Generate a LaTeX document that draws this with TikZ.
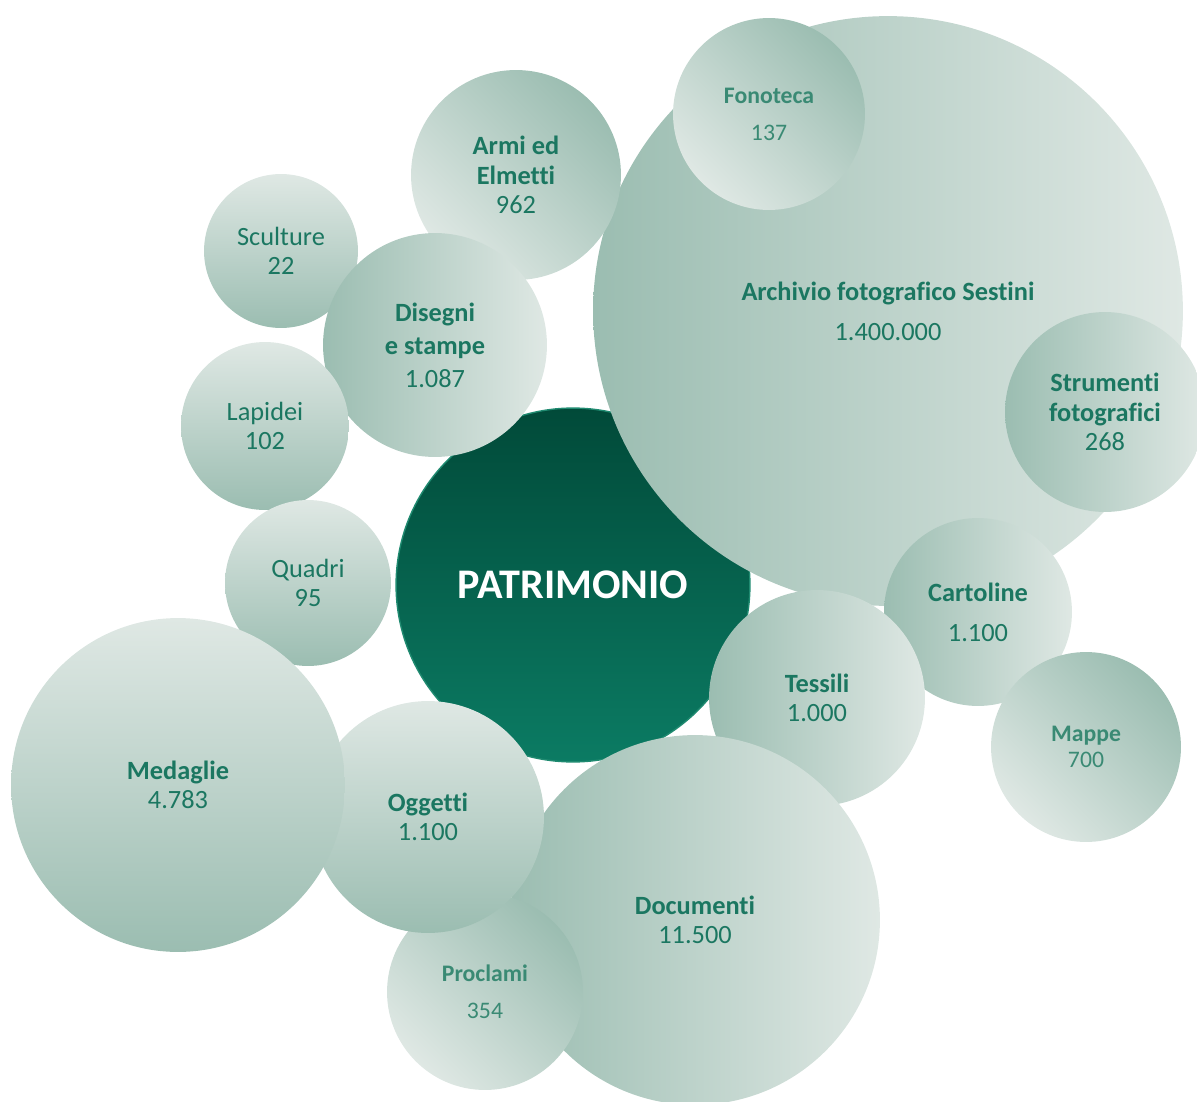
\documentclass[tikz,border=0pt]{standalone}
\usepackage{fontspec}
\setmainfont{Carlito}[Ligatures=NoCommon]
\usetikzlibrary{positioning}
\definecolor{bubdark}{HTML}{9BBDB1}
\definecolor{bublight}{HTML}{DFE8E4}
\definecolor{bubtext}{HTML}{1B7761}
\definecolor{bubsoft}{HTML}{3A8A74}
\definecolor{coretop}{HTML}{014A39}
\definecolor{corebot}{HTML}{0B7B63}
\definecolor{coreline}{HTML}{1F8A70}

\begin{document}
\begin{tikzpicture}[
x=0.02cm, y=-0.02cm,
bub/.style={
  circle,
  inner sep=0pt,
  minimum size=#1*0.04cm,
  align=center,
  text=bubtext,
  font=\fontsize{15}{16.8}\selectfont
},
down/.style={
  top color=bublight,
  bottom color=bubdark
},
across/.style={
  left color=bubdark,
  right color=bublight
},
slant/.style={
  top color=bubdark,
  bottom color=bublight,
  shading angle=-45
},
soft/.style={
  text=bubsoft,
  font=\fontsize{13.5}{15}\selectfont
},
core/.style={
  circle,
  inner sep=0pt,
  minimum size=#1*0.04cm,
  top color=coretop,
  bottom color=corebot,
  draw=coreline,
  line width=0.8pt,
  text=white,
  font=\fontsize{24}{27}\selectfont\bfseries
}
]
\useasboundingbox (0,0) rectangle (1197,1102);

% centre
\node[core=177] (patrimonio) at (573,585) {PATRIMONIO};

% right side
\node[bub=295,across] (archivio) at (888,311)
  {\textbf{Archivio fotografico Sestini}\\[6pt] 1.400.000};
\node[bub=96,slant,soft] (fonoteca) at (769,114)
  {\textbf{Fonoteca}\\[6pt] 137};
\node[bub=100,across] (strumenti) at (1105,412)
  {\textbf{Strumenti}\\ \textbf{fotografici}\\ 268};
\node[bub=94,across] (cartoline) at (978,612)
  {\textbf{Cartoline}\\[6pt] 1.100};

% left side
\node[bub=105,slant] (armi) at (516,175)
  {\textbf{Armi ed}\\ \textbf{Elmetti}\\ 962};
\node[bub=77,down] (sculture) at (281,251)
  {Sculture\\ 22};
\node[bub=112,across] (disegni) at (435,345)
  {\textbf{Disegni}\\[2pt] \textbf{e stampe}\\[2pt] 1.087};
\node[bub=84,down] (lapidei) at (265,426)
  {Lapidei\\ 102};
\node[bub=83,down] (quadri) at (308,583)
  {Quadri\\ 95};

% lower side
\node[bub=108,across] (tessili) at (817,698)
  {\textbf{Tessili}\\ 1.000};
\node[bub=95,slant,soft] (mappe) at (1086,747)
  {\textbf{Mappe}\\ 700};
\node[bub=185,across] (documenti) at (695,920)
  {\textbf{Documenti}\\ 11.500};
\node[bub=98,slant,soft] (proclami) at (485,992)
  {\textbf{Proclami}\\[6pt] 354};
\node[bub=116,down] (oggetti) at (428,817)
  {\textbf{Oggetti}\\ 1.100};
\node[bub=167,down] (medaglie) at (178,785)
  {\textbf{Medaglie}\\ 4.783};
\end{tikzpicture}
\end{document}
